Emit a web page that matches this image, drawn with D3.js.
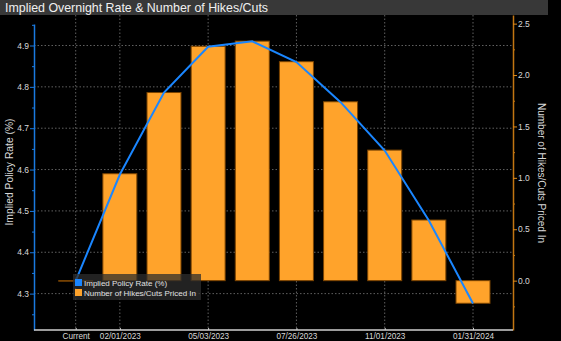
<!DOCTYPE html>
<html><head><meta charset="utf-8">
<script src="https://cdn.jsdelivr.net/npm/d3@7"></script>
<style>
html,body{margin:0;padding:0;background:#000;}
svg{display:block;font-family:"Liberation Sans",Arial,sans-serif;}
</style></head>
<body>
<svg id="c" width="561" height="341"></svg>
<script>
const categories = ["Current","02/01/2023","03/22/2023","05/03/2023","06/14/2023","07/26/2023","09/20/2023","11/01/2023","12/13/2023","01/31/2024"];
const tickLabels = ["Current","02/01/2023","05/03/2023","07/26/2023","11/01/2023","01/31/2024"];
const hikes = [0.0, 1.04, 1.83, 2.28, 2.33, 2.13, 1.74, 1.27, 0.59, -0.22];
const rates = [4.331, 4.588, 4.786, 4.897, 4.910, 4.860, 4.763, 4.646, 4.477, 4.276];
const leftTicks = [4.3, 4.4, 4.5, 4.6, 4.7, 4.8, 4.9];
const rightTicks = [0.0, 0.5, 1.0, 1.5, 2.0, 2.5];

const svg = d3.select("#c");
const L = 34, R = 513, B = 330, TL = 24, TR = 15;

svg.append("rect").attr("x",0).attr("y",0).attr("width",548).attr("height",15).attr("fill","#383838");
svg.append("text").attr("x",5).attr("y",11.5).attr("fill","#f0f0f0").attr("font-size",12.4)
  .text("Implied Overnight Rate & Number of Hikes/Cuts");

const x = d3.scalePoint().domain(categories).range([75.7, 473]);
const bw = x.step()*0.77;
const yL = d3.scaleLinear().domain([4.212, 4.952]).range([B, TL]);
const yR = d3.scaleLinear().domain([-0.48, 2.584]).range([B, TR]);

// grid
const g = svg.append("g");
g.selectAll("line.h").data(leftTicks).join("line")
  .attr("x1",L).attr("x2",R).attr("y1",d=>yL(d)).attr("y2",d=>yL(d))
  .attr("stroke","#606060").attr("stroke-dasharray","1.5,2").attr("stroke-width",1);
g.selectAll("line.v").data(tickLabels).join("line")
  .attr("x1",d=>x(d)).attr("x2",d=>x(d)).attr("y1",TR).attr("y2",B)
  .attr("stroke","#606060").attr("stroke-dasharray","1.5,2").attr("stroke-width",1);

// bars
svg.append("g").selectAll("rect").data(categories).join("rect")
  .attr("x",d=>x(d)-bw/2).attr("width",bw)
  .attr("y",(d,i)=>Math.min(yR(hikes[i]),yR(0)))
  .attr("height",(d,i)=>Math.max(Math.abs(yR(hikes[i])-yR(0)),0.5))
  .attr("fill","#ffa32b").attr("stroke","#7a4300").attr("stroke-width",1);

// line
svg.append("path").datum(categories)
  .attr("d", d3.line().x(d=>x(d)).y((d,i)=>yL(rates[i])))
  .attr("fill","none").attr("stroke","#1a86ff").attr("stroke-width",2);

// left axis
const axL = d3.axisLeft(yL).tickValues(leftTicks).tickFormat(d3.format(".1f")).tickSize(4).tickSizeOuter(0);
const gL = svg.append("g").attr("transform",`translate(${L},0)`).call(axL);
gL.select(".domain").attr("stroke","#1a7ae0").attr("stroke-width",1.5);
gL.selectAll(".tick line").attr("stroke","#1a7ae0");
gL.selectAll("text").attr("fill","#d8d8d8").attr("font-size",8.5).attr("x",-5);
const gLm = svg.append("g").attr("transform",`translate(${L},0)`)
  .call(d3.axisLeft(yL).tickValues(leftTicks.map(v=>v-0.05).concat([4.95])).tickFormat("").tickSize(2).tickSizeOuter(0));
gLm.select(".domain").remove();
gLm.selectAll(".tick line").attr("stroke","#1a7ae0");

// right axis
const axR = d3.axisRight(yR).tickValues(rightTicks).tickFormat(d3.format(".1f")).tickSize(4).tickSizeOuter(0);
const gR = svg.append("g").attr("transform",`translate(${R},0)`).call(axR);
gR.select(".domain").attr("stroke","#c27612").attr("stroke-width",1.5);
gR.selectAll(".tick line").attr("stroke","#e08a18");
gR.selectAll("text").attr("fill","#d8d8d8").attr("font-size",8.5).attr("x",5);
const gRm = svg.append("g").attr("transform",`translate(${R},0)`)
  .call(d3.axisRight(yR).tickValues(rightTicks.map(v=>v-0.25)).tickFormat("").tickSize(2).tickSizeOuter(0));
gRm.select(".domain").remove();
gRm.selectAll(".tick line").attr("stroke","#c27612");

// bottom axis
const axB = d3.axisBottom(x).tickValues(tickLabels).tickSize(-2).tickSizeOuter(0);
const gB = svg.append("g").attr("transform",`translate(0,${B})`).call(axB);
gB.select(".domain").attr("d",`M${L},0H${R}`).attr("stroke","#d0d0d0").attr("stroke-width",1.5);
gB.selectAll(".tick line").attr("stroke","#d0d0d0");
gB.selectAll("text").attr("fill","#d8d8d8").attr("font-size",8.2).attr("y",3.5);

// axis titles
svg.append("text").attr("transform","translate(13,172) rotate(-90)").attr("text-anchor","middle")
  .attr("fill","#d8d8d8").attr("font-size",10.3).text("Implied Policy Rate (%)");
svg.append("text").attr("transform","translate(538,173) rotate(90)").attr("text-anchor","middle")
  .attr("fill","#d8d8d8").attr("font-size",10).text("Number of Hikes/Cuts Priced In");

// legend
const lg = svg.append("g");
lg.append("rect").attr("x",73).attr("y",274).attr("width",128).attr("height",26).attr("fill","rgba(45,45,45,0.75)");
const items = [["Implied Policy Rate (%)","#1a86ff"],["Number of Hikes/Cuts Priced In","#ffa32b"]];
items.forEach((it,i)=>{
  lg.append("rect").attr("x",75).attr("y",279+i*10).attr("width",7).attr("height",7).attr("fill",it[1]);
  lg.append("text").attr("x",84).attr("y",286+i*10).attr("fill","#e0e0e0").attr("font-size",8).text(it[0]);
});
</script>
</body></html>
